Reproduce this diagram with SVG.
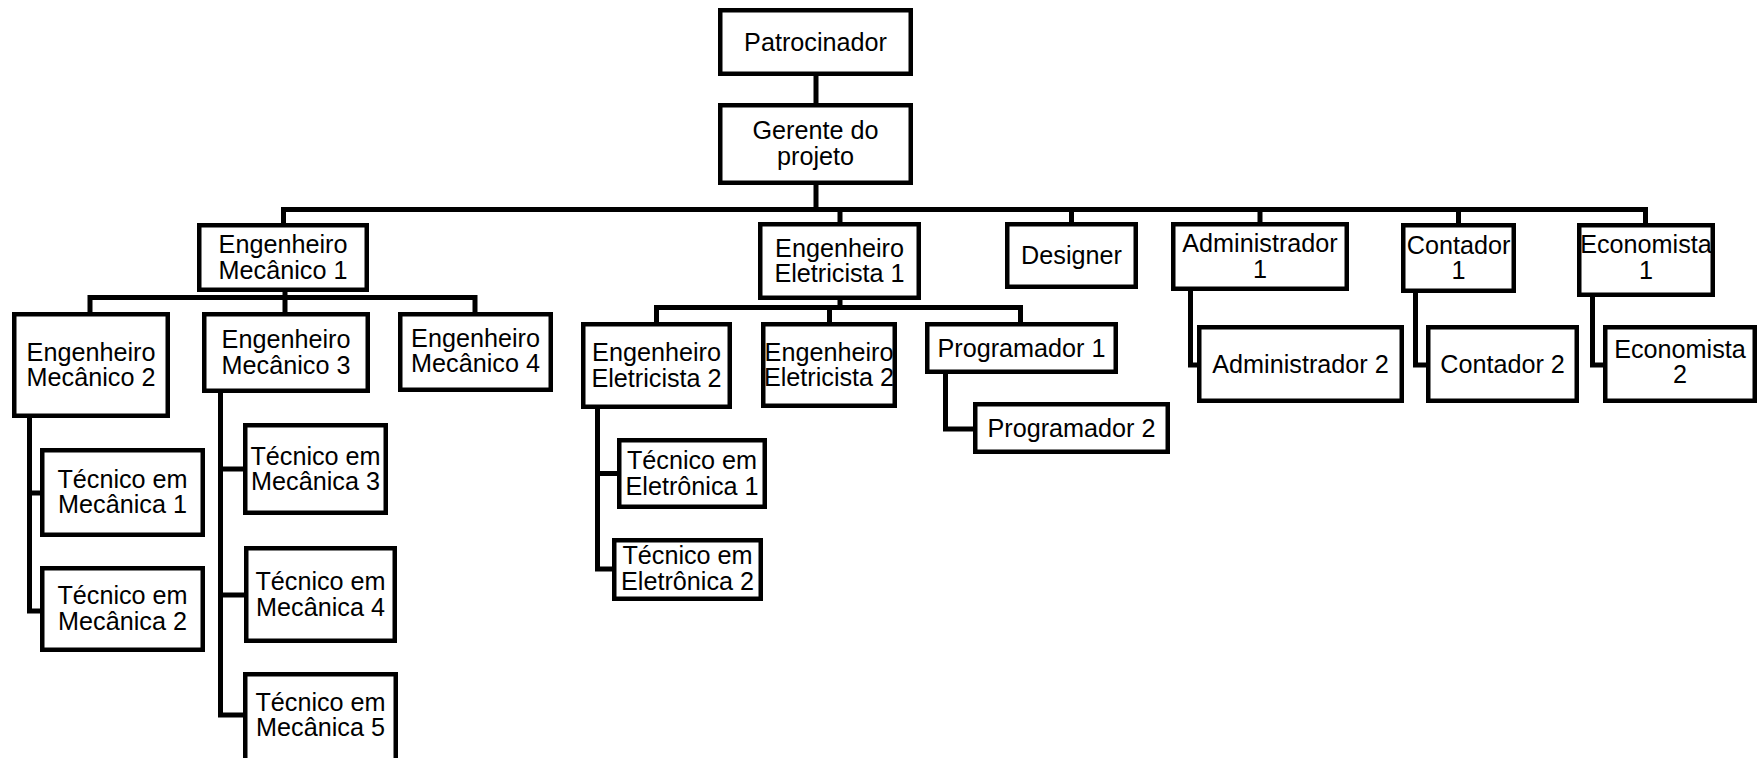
<svg xmlns="http://www.w3.org/2000/svg" width="1758" height="758" viewBox="0 0 1758 758">
<style>
.b{fill:#fff;stroke:#000;stroke-width:4.5}
.t{font-family:"Liberation Sans",Arial,sans-serif;font-size:25.2px;fill:#000;text-anchor:middle}
.c{fill:none;stroke:#000;stroke-width:5;stroke-linecap:square}
</style>
<rect width="1758" height="758" fill="#fff"/>
<g id="connectors">
<path class="c" d="M816,76V103M816,185V209.5M283.5,209.5H1645.5M283.5,209.5V223M840,209.5V222M1071.5,209.5V222M1260,209.5V222M1458.5,209.5V223M1645.5,209.5V223"/>
<path class="c" d="M285,292V297.5M90,297.5H475M90,297.5V312M285,297.5V312M475,297.5V312"/>
<path class="c" d="M29.5,418V611M29.5,493H40M29.5,611H40"/>
<path class="c" d="M220.5,393V715M220.5,469H243M220.5,595H244M220.5,715H243"/>
<path class="c" d="M840,300V307.5M656.5,307.5H1020.5M656.5,307.5V322M829.5,307.5V322M1020.5,307.5V322"/>
<path class="c" d="M597.5,409V569M597.5,473.5H617M597.5,569H612"/>
<path class="c" d="M945.5,374V429H973"/>
<path class="c" d="M1190.5,291V365H1197"/>
<path class="c" d="M1415.5,293V365H1426"/>
<path class="c" d="M1592.5,297V365H1603"/>
</g>
<g id="patrocinador"><rect class="b" x="720.25" y="10.25" width="190.5" height="63.5"/><text class="t" x="815.5" y="51">Patrocinador</text></g>
<g id="gerente"><rect class="b" x="720.25" y="105.25" width="190.5" height="77.5"/><text class="t" x="815.5" y="139">Gerente do</text><text class="t" x="815.5" y="164.5">projeto</text></g>
<g id="eng-mec-1"><rect class="b" x="199.25" y="225.25" width="167.5" height="64.5"/><text class="t" x="283" y="253.3">Engenheiro</text><text class="t" x="283" y="278.8">Mecânico 1</text></g>
<g id="eng-mec-2"><rect class="b" x="14.25" y="314.25" width="153.5" height="101.5"/><text class="t" x="91" y="360.8">Engenheiro</text><text class="t" x="91" y="386.3">Mecânico 2</text></g>
<g id="eng-mec-3"><rect class="b" x="204.25" y="314.25" width="163.5" height="76.5"/><text class="t" x="286" y="348.3">Engenheiro</text><text class="t" x="286" y="373.8">Mecânico 3</text></g>
<g id="eng-mec-4"><rect class="b" x="400.25" y="314.25" width="150.5" height="75.5"/><text class="t" x="475.5" y="346.8">Engenheiro</text><text class="t" x="475.5" y="372.3">Mecânico 4</text></g>
<g id="tec-mec-1"><rect class="b" x="42.25" y="450.25" width="160.5" height="84.5"/><text class="t" x="122.5" y="487.8">Técnico em</text><text class="t" x="122.5" y="513.3">Mecânica 1</text></g>
<g id="tec-mec-2"><rect class="b" x="42.25" y="568.25" width="160.5" height="81.5"/><text class="t" x="122.5" y="604.3">Técnico em</text><text class="t" x="122.5" y="629.8">Mecânica 2</text></g>
<g id="tec-mec-3"><rect class="b" x="245.25" y="425.25" width="140.5" height="87.5"/><text class="t" x="315.5" y="464.8">Técnico em</text><text class="t" x="315.5" y="490.3">Mecânica 3</text></g>
<g id="tec-mec-4"><rect class="b" x="246.25" y="548.25" width="148.5" height="92.5"/><text class="t" x="320.5" y="590.3">Técnico em</text><text class="t" x="320.5" y="615.8">Mecânica 4</text></g>
<g id="tec-mec-5"><rect class="b" x="245.25" y="674.25" width="150.5" height="90"/><text class="t" x="320.5" y="710.8">Técnico em</text><text class="t" x="320.5" y="736.3">Mecânica 5</text></g>
<g id="eng-ele-1"><rect class="b" x="760.25" y="224.25" width="158.5" height="73.5"/><text class="t" x="839.5" y="256.8">Engenheiro</text><text class="t" x="839.5" y="282.3">Eletricista 1</text></g>
<g id="eng-ele-2a"><rect class="b" x="583.25" y="324.25" width="146.5" height="82.5"/><text class="t" x="656.5" y="361.3">Engenheiro</text><text class="t" x="656.5" y="386.8">Eletricista 2</text></g>
<g id="eng-ele-2b"><rect class="b" x="763.25" y="324.25" width="131.5" height="81.5"/><text class="t" x="829" y="360.8">Engenheiro</text><text class="t" x="829" y="386.3">Eletricista 2</text></g>
<g id="programador-1"><rect class="b" x="927.25" y="324.25" width="188.5" height="47.5"/><text class="t" x="1021.5" y="356.6">Programador 1</text></g>
<g id="programador-2"><rect class="b" x="975.25" y="404.25" width="192.5" height="47.5"/><text class="t" x="1071.5" y="436.6">Programador 2</text></g>
<g id="tec-ele-1"><rect class="b" x="619.25" y="440.25" width="145.5" height="66.5"/><text class="t" x="692" y="469.3">Técnico em</text><text class="t" x="692" y="494.8">Eletrônica 1</text></g>
<g id="tec-ele-2"><rect class="b" x="614.25" y="540.25" width="146.5" height="58.5"/><text class="t" x="687.5" y="564">Técnico em</text><text class="t" x="687.5" y="589.5">Eletrônica 2</text></g>
<g id="designer"><rect class="b" x="1007.25" y="224.25" width="128.5" height="62.5"/><text class="t" x="1071.5" y="264">Designer</text></g>
<g id="administrador-1"><rect class="b" x="1173.25" y="224.25" width="173.5" height="64.5"/><text class="t" x="1260" y="252.3">Administrador</text><text class="t" x="1260" y="277.8">1</text></g>
<g id="administrador-2"><rect class="b" x="1199.25" y="327.25" width="202.5" height="73.5"/><text class="t" x="1300.5" y="372.6">Administrador 2</text></g>
<g id="contador-1"><rect class="b" x="1403.25" y="225.25" width="110.5" height="65.5"/><text class="t" x="1458.5" y="253.8">Contador</text><text class="t" x="1458.5" y="279.3">1</text></g>
<g id="contador-2"><rect class="b" x="1428.25" y="327.25" width="148.5" height="73.5"/><text class="t" x="1502.5" y="372.6">Contador 2</text></g>
<g id="economista-1"><rect class="b" x="1579.25" y="225.25" width="133.5" height="69.5"/><text class="t" x="1646" y="253">Economista</text><text class="t" x="1646" y="279">1</text></g>
<g id="economista-2"><rect class="b" x="1605.25" y="327.25" width="149.5" height="73.5"/><text class="t" x="1680" y="357.5">Economista</text><text class="t" x="1680" y="383">2</text></g>
</svg>
